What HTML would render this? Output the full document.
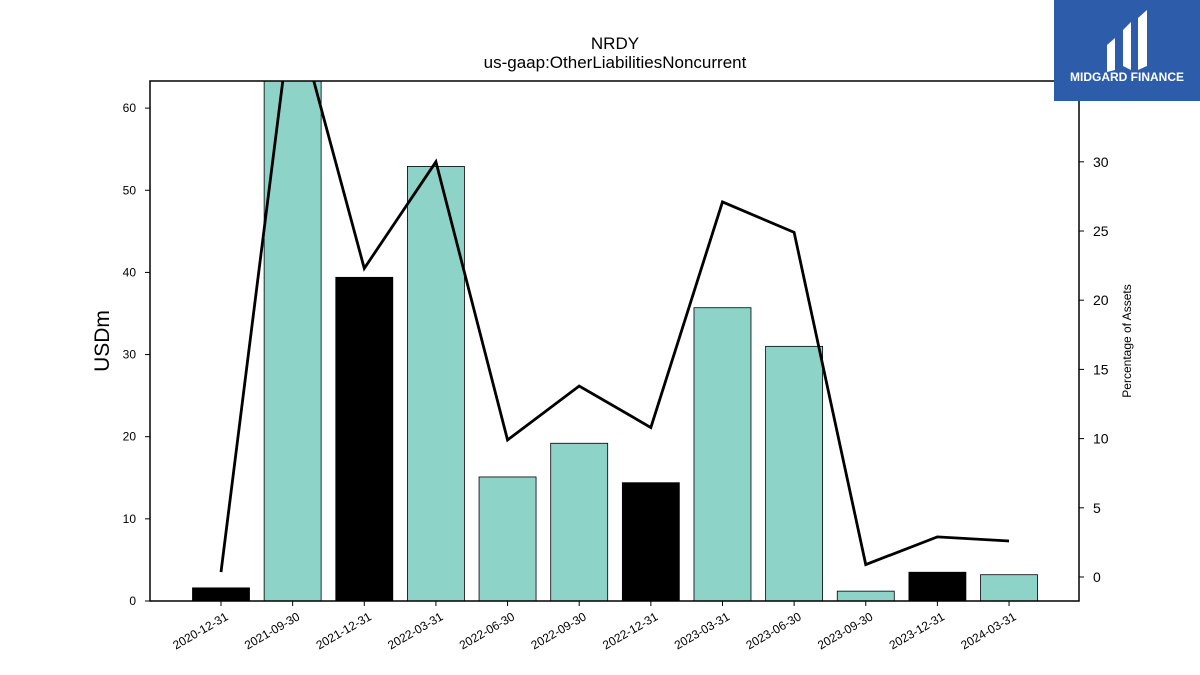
<!DOCTYPE html>
<html><head><meta charset="utf-8"><style>
body{margin:0;background:#fff;font-family:"Liberation Sans",sans-serif;}
#wrap{position:relative;width:1200px;height:675px;overflow:hidden;}
</style></head><body><div id="wrap">
<svg id="svg" width="1200" height="675" xmlns="http://www.w3.org/2000/svg">
<text x="615" y="49" text-anchor="middle" font-size="17">NRDY</text>
<text x="615" y="68" text-anchor="middle" font-size="17">us-gaap:OtherLiabilitiesNoncurrent</text>
<text transform="translate(109,341) rotate(-90)" text-anchor="middle" font-size="21">USDm</text>
<text transform="translate(1131,341) rotate(-90)" text-anchor="middle" font-size="12">Percentage of Assets</text>
<g id="bars"></g><g id="line"></g><g id="axes"></g>
<g>
<rect x="1054" y="0" width="146" height="101" fill="#2d5cab"/>
<path d="M1107 45 L1115 38 L1115 70 L1107 72 Z M1123 30 L1131 22 L1131 70 L1123 66 Z M1138 18 L1147 10 L1147 66 L1138 70 Z" fill="#fff"/>
<text x="1127" y="81" text-anchor="middle" font-size="12" font-weight="bold" fill="#fff">MIDGARD FINANCE</text>
</g>
</svg></div>
<script>
const categories=["2020-12-31","2021-09-30","2021-12-31","2022-03-31","2022-06-30","2022-09-30","2022-12-31","2023-03-31","2023-06-30","2023-09-30","2023-12-31","2024-03-31"];
const barValues=[1.6,75,39.4,52.9,15.1,19.2,14.4,35.7,31.0,1.2,3.5,3.2];
const pctValues=[0.36,41.5,22.3,30.0,9.9,13.8,10.8,27.1,24.9,0.9,2.9,2.6];
const leftTicks=[0,10,20,30,40,50,60];
const rightTicks=[0,5,10,15,20,25,30];
const NS="http://www.w3.org/2000/svg";
const L=150,R=1079,T=81,B=601;
const yL=v=>B-v*(B-T)/63.3;
const yR=v=>577-v*13.84;
const xC=i=>221+i*71.64;
function mk(tag,attrs,parent){const e=document.createElementNS(NS,tag);for(const k in attrs)e.setAttribute(k,attrs[k]);parent.appendChild(e);return e;}
const bars=document.getElementById('bars'),line=document.getElementById('line'),axes=document.getElementById('axes');
const clip=mk('clipPath',{id:'pc'},document.getElementById('svg'));mk('rect',{x:L,y:T,width:R-L,height:B-T},clip);
bars.setAttribute('clip-path','url(#pc)');line.setAttribute('clip-path','url(#pc)');
categories.forEach((c,i)=>{
 const y=yL(barValues[i]);
 const r=mk('rect',{x:xC(i)-28.5,y:y,width:57,height:B-y,fill:c.endsWith('12-31')?'#000':'#8dd3c7',stroke:'#000','stroke-width':0.8},bars);
 
 
 mk('line',{x1:xC(i),x2:xC(i),y1:B,y2:B+5,stroke:'#000'},axes);
 const t=mk('text',{transform:`translate(${xC(i)+8},${B+18}) rotate(-30)`,'text-anchor':'end','font-size':12},axes);
 t.textContent=c;
 
 
});
const p=mk('polyline',{points:pctValues.map((v,i)=>xC(i)+','+yR(v)).join(' '),fill:'none',stroke:'#000','stroke-width':2.8},line);


const fr=mk('rect',{x:L,y:T,width:R-L,height:B-T,fill:'none',stroke:'#000','stroke-width':1.5},axes);


leftTicks.forEach(v=>{const y=yL(v);mk('line',{x1:L-5,x2:L,y1:y,y2:y,stroke:'#000'},axes);
 const t=mk('text',{x:L-14,y:y+4,'text-anchor':'end','font-size':12},axes);t.textContent=v;
 
 });
rightTicks.forEach(v=>{const y=yR(v);mk('line',{x1:R,x2:R+5,y1:y,y2:y,stroke:'#000'},axes);
 const t=mk('text',{x:R+14,y:y+5,'font-size':14},axes);t.textContent=v;
 
 });
</script></body></html>
